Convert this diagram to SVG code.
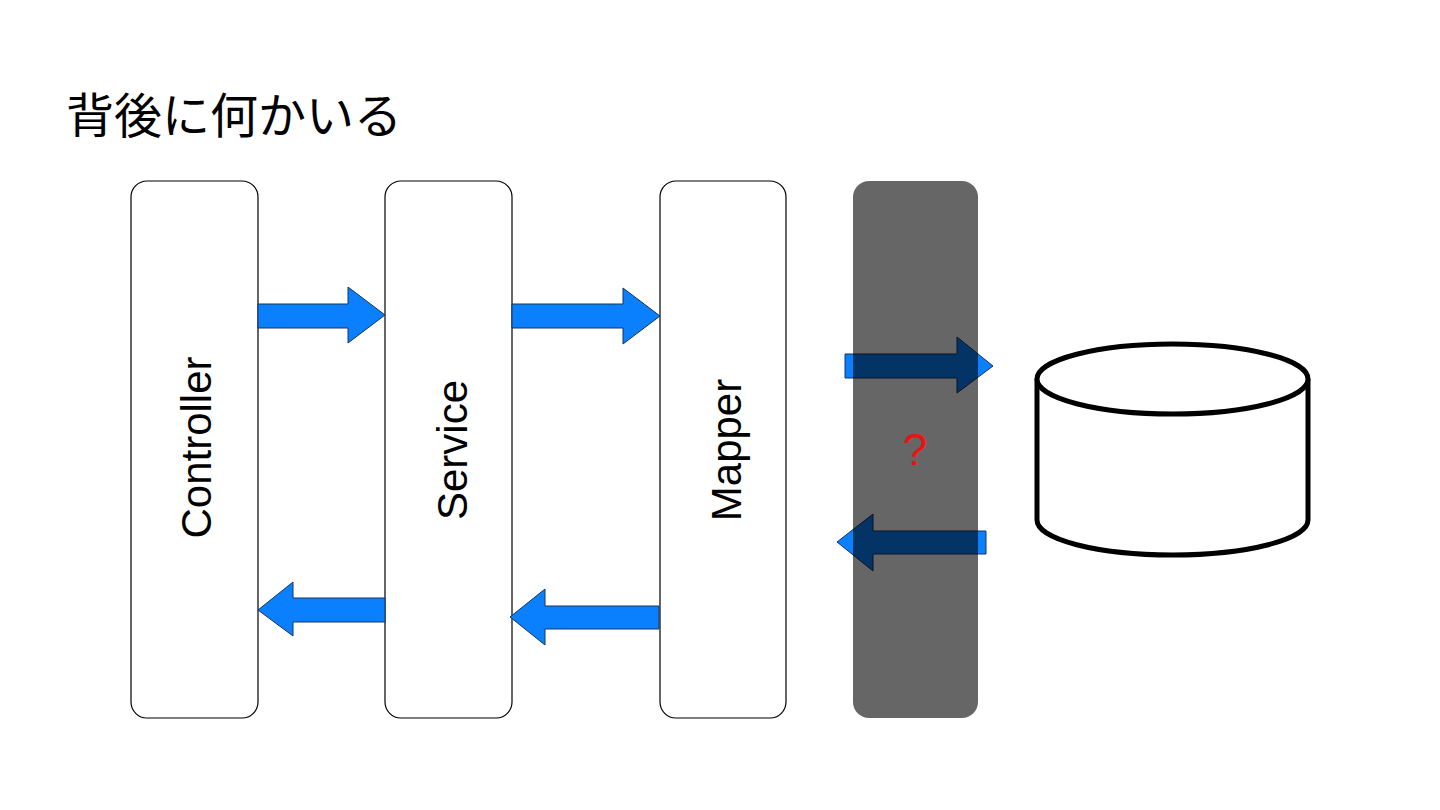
<svg xmlns="http://www.w3.org/2000/svg" width="1440" height="810" viewBox="0 0 1440 810">
<style>
.box{fill:#fff;stroke:#000;stroke-width:1.2}
.lbl{font-family:"Liberation Sans",Arial,sans-serif;font-size:42px;fill:#000;text-anchor:middle}
.arr{fill:#0a80ff;stroke:#16355e;stroke-width:1}
</style>
<rect width="1440" height="810" fill="#fff"/>
<text x="66" y="133" font-family="'Noto Sans CJK JP','Noto Sans',sans-serif" font-size="48" fill="#000">背後に何かいる</text>
<g id="controller">
<rect class="box" x="131" y="181" width="127" height="537" rx="16"/>
<text class="lbl" transform="translate(211,447.5) rotate(-90)">Controller</text>
</g>
<g id="service">
<rect class="box" x="385" y="181" width="127" height="537" rx="16"/>
<text class="lbl" transform="translate(467,450) rotate(-90)">Service</text>
</g>
<g id="mapper">
<rect class="box" x="660" y="181" width="126" height="537" rx="16"/>
<text class="lbl" transform="translate(741,450) rotate(-90)">Mapper</text>
</g>
<g id="connectors">
<polygon class="arr" points="258,304 348,304 348,287 385,315 348,343 348,328 258,328"/>
<polygon class="arr" points="512,304 623,304 623,288 660,316 623,344 623,328 512,328"/>
<polygon class="arr" points="385,598 293,598 293,582 258,610 293,636 293,622 385,622"/>
<polygon class="arr" points="659,606 545,606 545,589 510,617 545,645 545,629 659,629"/>
<polygon class="arr" points="845,354 957,354 957,337 993,366 957,393 957,378 845,378"/>
<polygon class="arr" points="986,531 873,531 873,514 837,542 873,571 873,554 986,554"/>
</g>
<g id="hidden">
<rect x="853" y="181" width="125" height="537" rx="16" fill="#000" fill-opacity="0.6"/>
<text x="915" y="465" font-family="'Liberation Sans',Arial,sans-serif" font-size="44" fill="#ee1111" text-anchor="middle">?</text>
</g>
<g id="database" fill="#fff" stroke="#000" stroke-width="5">
<path d="M1037,379 L1037,520 A135.5,35 0 0 0 1308,520 L1308,379"/>
<ellipse cx="1172.5" cy="379" rx="135.5" ry="35"/>
</g>
</svg>
